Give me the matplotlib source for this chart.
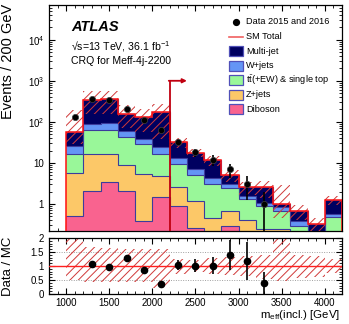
import numpy as np
import matplotlib
matplotlib.use("Agg")
import matplotlib.pyplot as plt
from matplotlib.ticker import MultipleLocator, LogLocator, FixedLocator, FuncFormatter, NullFormatter
from matplotlib.patches import Rectangle
from matplotlib.lines import Line2D

plt.rcParams['font.family'] = ['Liberation Sans', 'DejaVu Sans']
plt.rcParams['mathtext.fontset'] = 'custom'
plt.rcParams['mathtext.rm'] = 'Liberation Sans'
plt.rcParams['mathtext.it'] = 'Liberation Sans:italic'
plt.rcParams['mathtext.bf'] = 'Liberation Sans:bold'
plt.rcParams['hatch.linewidth'] = 0.7

# ---------------- data ----------------
bin_edges = [1000, 1200, 1400, 1600, 1800, 2000, 2200, 2400, 2600, 2800,
             3000, 3200, 3400, 3600, 3800, 4000, 4200]
diboson = [0.5, 2.1, 3.5, 2.1, 0.39, 1.5, 0.91, 0.26, 0.05, 0.29, 0.05, 0.02, 0.02, 0.01, 0.01, 0.01]
zjets = [5.1, 14.2, 12.8, 6.8, 4.9, 3.3, 1.7, 0.94, 0.40, 0.40, 0.36, 0.22, 0.23, 0.04, 0.02, 0.04]
ttbar = [10.7, 48.7, 46.7, 33.1, 23.3, 11.8, 6.9, 3.9, 2.55, 1.71, 0.91, 0.65, 0.44, 0.24, 0.09, 0.44]
wjets = [10.2, 22.0, 33.0, 19.0, 9.4, 8.4, 3.5, 1.9, 1.2, 0.6, 0.25, 0.18, 0.14, 0.10, 0.06, 0.07]
multijet = [31.5, 258, 259, 96, 92, 145, 19, 10.8, 7.6, 2.0, 0.98, 1.53, 0.17, 0.30, 0.15, 0.69]
unc_up = [2.4, 0.68, 0.63, 0.6, 0.6, 0.6, 0.26, 0.2, 0.27, 0.32, 0.36, 0.39, 1.9, 0.39, 0.36, 0.24]
unc_dn = [0.5, 0.56, 0.56, 0.56, 0.56, 0.77, 0.29, 0.2, 0.27, 0.32, 0.36, 0.45, 0.54, 0.42, 0.4, 0.24]
data_x = [1100, 1300, 1500, 1700, 1900, 2100, 2300, 2500, 2700, 2900, 3100, 3300]
data_n = [134, 365, 337, 204, 112, 63, 33, 18, 12, 7, 3, 1]

cut_value = 2200
cut_arrow_end = 2400
cut_height = 1000

labels = ['Data 2015 and 2016', 'SM Total', 'Multi-jet', 'W+jets',
          r'$\mathrm{t\bar{t}}$(+EW) & single top', 'Z+jets', 'Diboson']
colors = {'Multi-jet': '#000060', 'W+jets': '#6495f5', 'ttbar': '#99f799',
          'Z+jets': '#fcc868', 'Diboson': '#f9638f'}
edgec = '#3c3c9c'

# ---------------- figure ----------------
W, H = 349, 324
fig = plt.figure(figsize=(W / 100, H / 100), dpi=100)
ax = fig.add_axes([49 / W, 1 - 231 / H, 293 / W, 226 / H])
rax = fig.add_axes([49 / W, 1 - 294 / H, 293 / W, 56 / H])

edges = np.array(bin_edges, dtype=float)
comps = [(diboson, colors['Diboson']), (zjets, colors['Z+jets']), (ttbar, colors['ttbar']),
         (wjets, colors['W+jets']), (multijet, colors['Multi-jet'])]
base = np.full(len(diboson), 1e-3)
for vals, col in comps:
    top = base + np.array(vals)
    ax.stairs(top, edges, baseline=base, fill=True, color=col, lw=0, zorder=2)
    ax.stairs(top, edges, baseline=None, fill=False, color=edgec, lw=0.8, zorder=3)
    base = top
total = base

# uncertainty band
up = total * (1 + np.array(unc_up))
dn = total * (1 - np.array(unc_dn))
ax.stairs(up, edges, baseline=dn, fill=True, facecolor='none', edgecolor='#d03838',
          hatch='////', lw=0, zorder=4)
# SM total line
ax.stairs(total, edges, baseline=1e-3, fill=False, color='#ff1010', lw=1.1, zorder=5)

# data
dn_ = np.array(data_n, dtype=float)
err = np.sqrt(dn_)
ax.errorbar(data_x, dn_, yerr=[np.minimum(err, dn_ - 1e-6), err], fmt='o', color='black',
            ms=4.5, lw=1.2, capsize=0, zorder=7, mec='#404040', mew=0.5)

# cut arrow
ax.plot([cut_value, cut_value], [1e-3, cut_height], color='#c00010', lw=1.3, zorder=6)
ax.annotate('', xy=(cut_arrow_end, cut_height), xytext=(cut_value - 10, cut_height),
            arrowprops=dict(arrowstyle='-|>', color='#c00010', lw=1.3,
                            mutation_scale=6, shrinkA=0, shrinkB=0), zorder=6)

ax.set_xlim(800, 4200)
ax.set_yscale('log')
ax.set_ylim(0.22, 7e4)

def logfmt(v, pos):
    e = int(round(np.log10(v)))
    if e == 0:
        return '1'
    if e == 1:
        return '10'
    return r'$10^{%d}$' % e

ax.yaxis.set_major_locator(LogLocator(base=10, numticks=10))
ax.yaxis.set_minor_locator(LogLocator(base=10, subs=np.arange(2, 10), numticks=20))
ax.yaxis.set_major_formatter(FuncFormatter(logfmt))
ax.yaxis.set_minor_formatter(NullFormatter())
ax.xaxis.set_major_locator(MultipleLocator(500))
ax.xaxis.set_minor_locator(MultipleLocator(100))
ax.set_xticklabels([])
for a in (ax, rax):
    a.tick_params(which='both', direction='in', top=True, right=True, labelsize=7)
    a.tick_params(which='major', length=4.5, width=0.8)
    a.tick_params(which='minor', length=2.3, width=0.6)
    for s in a.spines.values():
        s.set_linewidth(0.9)
ax.tick_params(axis='x', labelbottom=False)

# texts
ax.text(0.075, 0.903, 'ATLAS', transform=ax.transAxes, fontsize=10.5,
        fontweight='bold', fontstyle='italic', ha='left', va='center')
ax.text(0.075, 0.815, '\u221as=13 TeV, 36.1 fb$^{-1}$', transform=ax.transAxes,
        fontsize=7.6, ha='left', va='center')
ax.text(0.075, 0.752, 'CRQ for Meff-4j-2200', transform=ax.transAxes,
        fontsize=7.6, ha='left', va='center')

# legend (manual)
def ypx(y):
    return (231 - y) / 226

def xpx(x):
    return (x - 49) / 293

row0, dy = 22, 14.5
for i, lab in enumerate(labels):
    yc = ypx(row0 + dy * i)
    ax.text(xpx(246), yc, lab, transform=ax.transAxes, fontsize=6.6, ha='left', va='center')
    if i == 0:
        ax.plot([xpx(236)], [yc], 'o', color='black', ms=4.2, transform=ax.transAxes, clip_on=False)
    elif i == 1:
        ax.plot([xpx(229), xpx(243)], [yc, yc], color='#f06060', lw=1.2, transform=ax.transAxes)
    else:
        key = ['Multi-jet', 'W+jets', 'ttbar', 'Z+jets', 'Diboson'][i - 2]
        ax.add_patch(Rectangle((xpx(229), yc - 5 / 226), 14 / 293, 10 / 226, transform=ax.transAxes,
                               facecolor=colors[key], edgecolor='#5050b8', lw=0.9, zorder=8))

# ratio panel
ratio = dn_ / total[:len(dn_)]
rerr = err / total[:len(dn_)]
rax.stairs(1 + np.array(unc_up), edges, baseline=1 - np.array(unc_dn), fill=True,
           facecolor='none', edgecolor='#d03838', hatch='////', lw=0, zorder=2)
rax.axhline(1, color='#ff2020', lw=1.0, zorder=3)
for g in (0.5, 1.5):
    rax.axhline(g, color='#a0a0a0', lw=0.7, ls=(0, (1, 1.5)), zorder=1)
rax.errorbar(data_x, ratio, yerr=[np.minimum(rerr, ratio), rerr], fmt='o', color='black',
             ms=4.5, lw=1.2, capsize=0, zorder=5)
rax.set_xlim(800, 4200)
rax.set_ylim(0, 2)
rax.yaxis.set_major_locator(FixedLocator([0, 0.5, 1, 1.5, 2]))
rax.yaxis.set_major_formatter(FuncFormatter(lambda v, p: ('%g' % v)))
rax.yaxis.set_minor_locator(MultipleLocator(0.1))
rax.xaxis.set_major_locator(MultipleLocator(500))
rax.xaxis.set_minor_locator(MultipleLocator(100))
rax.tick_params(axis='x', pad=3)

fig.text(8 / W, 1 - 4 / H, 'Events / 200 GeV', rotation=90, ha='center', va='top', fontsize=10.5)
fig.text(8 / W, 1 - 266 / H, 'Data / MC', rotation=90, ha='center', va='center', fontsize=9.5)
fig.text(340 / W, 1 - 315 / H, r'$\mathrm{m}_{\mathrm{eff}}$(incl.) [GeV]', ha='right', va='center',
         fontsize=8.2)

fig.savefig('out.png', dpi=100)
